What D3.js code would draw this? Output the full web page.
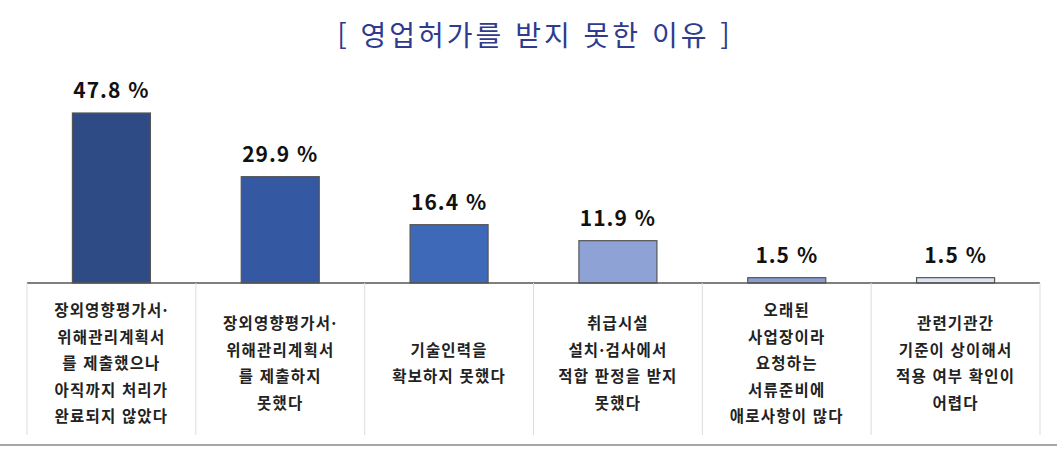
<!DOCTYPE html>
<html lang="ko">
<head>
<meta charset="UTF-8">
<script src="https://d3js.org/d3.v7.min.js"></script>
<style>
  body { margin: 0; background: #fff; }
  text { font-family: "Noto Sans CJK KR", "Noto Sans", sans-serif; }
</style>
</head>
<body>
<div id="chart"></div>
<script>
const width = 1057, height = 455;

// 데이터
const categories = [
  ["장외영향평가서·", "위해관리계획서", "를 제출했으나", "아직까지 처리가", "완료되지 않았다"],
  ["장외영향평가서·", "위해관리계획서", "를 제출하지", "못했다"],
  ["기술인력을", "확보하지 못했다"],
  ["취급시설", "설치·검사에서", "적합 판정을 받지", "못했다"],
  ["오래된", "사업장이라", "요청하는", "서류준비에", "애로사항이 많다"],
  ["관련기관간", "기준이 상이해서", "적용 여부 확인이", "어렵다"]
];
const values = [47.8, 29.9, 16.4, 11.9, 1.5, 1.5];
const colors = ["#2f4b85", "#3558a2", "#3e69b9", "#8ea2d5", "#8a9dcf", "#dde3f3"];

const svg = d3.select("#chart").append("svg")
  .attr("width", width).attr("height", height);

const baseY = 283;
const x = d3.scaleBand().domain(d3.range(values.length)).range([27, 1040]).paddingInner(0).paddingOuter(0);
const y = d3.scaleLinear().domain([0, 47.8]).range([baseY, 113]);
const barW = 78;

// 제목
svg.append("text")
  .attr("x", 535).attr("y", 46)
  .attr("text-anchor", "middle")
  .attr("font-size", 28)
  .attr("fill", "#2e3b8f")
  .attr("letter-spacing", 3)
  .text("[ 영업허가를 받지 못한 이유 ]");

// 막대
svg.selectAll("rect.bar").data(values).enter().append("rect")
  .attr("class", "bar")
  .attr("x", (d, i) => x(i) + x.bandwidth() / 2 - barW / 2)
  .attr("y", d => y(d))
  .attr("width", barW)
  .attr("height", d => baseY - y(d))
  .attr("fill", (d, i) => colors[i])
  .attr("stroke", "#555")
  .attr("stroke-width", 1.2);

// 값 라벨
svg.selectAll("text.val").data(values).enter().append("text")
  .attr("x", (d, i) => x(i) + x.bandwidth() / 2)
  .attr("y", d => y(d) - 15)
  .attr("text-anchor", "middle")
  .attr("font-size", 21)
  .attr("font-weight", "bold")
  .attr("letter-spacing", 1)
  .attr("fill", "#111")
  .text(d => d + " %");

// 기준선
svg.append("line")
  .attr("x1", 27).attr("x2", 1040).attr("y1", baseY).attr("y2", baseY)
  .attr("stroke", "#555").attr("stroke-width", 1.5);

// 구분선
svg.selectAll("line.sep").data(d3.range(values.length + 1)).enter().append("line")
  .attr("x1", i => i < values.length ? x(i) : 1040)
  .attr("x2", i => i < values.length ? x(i) : 1040)
  .attr("y1", baseY).attr("y2", 435)
  .attr("stroke", "#ddd").attr("stroke-width", 1);

// 하단선
svg.append("line")
  .attr("x1", 0).attr("x2", width).attr("y1", 445).attr("y2", 445)
  .attr("stroke", "#888").attr("stroke-width", 1.5);

// 항목 라벨
const lh = 26.5, midY = 364;
categories.forEach((lines, i) => {
  const t = svg.append("text")
    .attr("text-anchor", "middle")
    .attr("font-size", 15.5)
    .attr("font-weight", "bold")
    .attr("letter-spacing", 1.2)
    .attr("fill", "#222");
  lines.forEach((s, j) => {
    t.append("tspan")
      .attr("x", x(i) + x.bandwidth() / 2)
      .attr("y", midY + (j - (lines.length - 1) / 2) * lh + 5)
      .text(s);
  });
});
</script>
</body>
</html>
